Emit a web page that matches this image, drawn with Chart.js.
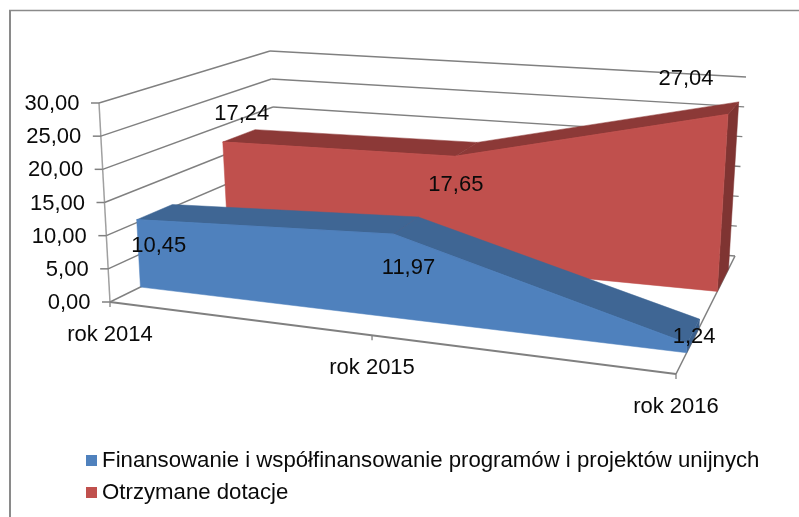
<!DOCTYPE html>
<html lang="pl">
<head>
<meta charset="utf-8">
<title>Finansowanie i dotacje</title>
<script src="https://cdn.jsdelivr.net/npm/chart.js@4"></script>
<style>
html,body{margin:0;padding:0;background:#fff}
canvas{display:block;filter:blur(.4px)}
</style>
</head>
<body>
<canvas id="c" width="799" height="517"></canvas>
<script>
const categories = ['rok 2014', 'rok 2015', 'rok 2016'];
const seriesNames = ['Finansowanie i współfinansowanie programów i projektów unijnych', 'Otrzymane dotacje'];
const fundingValues = [10.45, 11.97, 1.24];
const grantValues = [17.24, 17.65, 27.04];
const axisMin = 0, axisMax = 30, axisStep = 5;

// view of the 3-D box (style, not data)
const FONT = 'Liberation Sans, Arial, sans-serif';
const FS = 22;
const box = {
  floor: {fl:[110,302], fr:[676,374], br:[735,256], bl:[279,219]},
  ceil:  {fl:[99,103],  fr:[690,137], br:[746,77],  bl:[270,51]}
};
const warpK = 1.16;
const styles = [
  {depth:[.18,.39], front:'#4f81bd', top:'#3f6694', side:'#3a5f8c', off:[[22,26],[15,34],[7,-6]]},
  {depth:[.70,.89], front:'#c0504d', top:'#8c3937', side:'#7f3432', off:[[19,-28],[1,29],[-42,-35]]}
];
const fmt = v => Number(v).toFixed(2).replace('.', ',');
const lerp = (a,b,t) => [a[0]+(b[0]-a[0])*t, a[1]+(b[1]-a[1])*t];
function project(u, v, w){
  const s = u/(u+warpK*(1-u));
  const pl = q => lerp(lerp(q.fl,q.bl,w), lerp(q.fr,q.br,w), s);
  return lerp(pl(box.floor), pl(box.ceil), v);
}
const normU = (c,px) => (px-c.chartArea.left)/(c.chartArea.right-c.chartArea.left);
const normV = (c,px) => (c.chartArea.bottom-px)/(c.chartArea.bottom-c.chartArea.top);
function poly(ctx, pts, fill){
  ctx.beginPath();
  pts.forEach((p,i)=> i?ctx.lineTo(p[0],p[1]):ctx.moveTo(p[0],p[1]));
  ctx.closePath(); ctx.fillStyle=fill; ctx.fill();
  ctx.strokeStyle=fill; ctx.lineWidth=.5; ctx.stroke();
}
function seg(ctx,a,b,col,lw){
  ctx.beginPath(); ctx.moveTo(a[0],a[1]); ctx.lineTo(b[0],b[1]);
  ctx.strokeStyle=col; ctx.lineWidth=lw; ctx.stroke();
}
function markerCanvas(col){
  const c=document.createElement('canvas'); c.width=13; c.height=11;
  const x=c.getContext('2d'); x.fillStyle=col; x.fillRect(2,0,11,11); return c;
}
function pointsOf(chart, di){
  const values = chart.data.datasets[di].data, xs = chart.scales.x, ys = chart.scales.y;
  return values.map((val,i)=>({u:normU(chart,xs.getPixelForValue(i)), v:normV(chart,ys.getPixelForValue(val))}));
}

const box3d = {
  id:'box3d',
  afterDatasetsUpdate(chart){
    chart.data.datasets.forEach((d,di)=>{
      const pts = pointsOf(chart,di), w = styles[di].depth[0];
      chart.getDatasetMeta(di).data.forEach((el,i)=>{
        const p = project(pts[i].u,pts[i].v,w);
        el.x=p[0]; el.y=p[1];
      });
    });
  },
  afterLayout(chart){
    const l=chart.legend;
    l.left=80; l.top=439.5; l.right=chart.width; l.bottom=chart.height;
  },
  beforeDraw(chart){
    const ctx=chart.ctx, xs=chart.scales.x, ys=chart.scales.y;
    ctx.save();
    ctx.fillStyle='#fff'; ctx.fillRect(0,0,chart.width,chart.height);
    seg(ctx,[10,10],[10,517],'#8a8a8a',2);
    seg(ctx,[9,10.5],[799,10.5],'#8a8a8a',1.5);
    ctx.restore();
    // tick labels stay the scale's own, placed along the slanted edges of the box
    ys.getLabelItems(chart.chartArea).forEach((it,i)=>{
      const p=project(0,normV(chart,ys.getPixelForValue(ys.ticks[i].value)),0);
      it.options.translation=[p[0]-19.5,p[1]+1];
    });
    xs.getLabelItems(chart.chartArea).forEach((it,i)=>{
      const p=project(normU(chart,xs.getPixelForValue(i)),0,0);
      it.textOffset=0; it.options.textBaseline='middle'; it.options.textAlign='center';
      it.options.translation=[p[0],p[1]+33];
    });
    ys.left=0; ys.right=chart.width;
    xs.top=0; xs.bottom=chart.height;
  },
  beforeDatasetsDraw(chart){
    const ctx=chart.ctx, xs=chart.scales.x, ys=chart.scales.y, G='#808080';
    ctx.save();
    seg(ctx,project(0,1,0),project(0,0,0),'#a0a0a0',1.5);
    ys.ticks.forEach(t=>{
      const v=normV(chart,ys.getPixelForValue(t.value));
      const a=project(0,v,0), b=project(0,v,1), c=project(1,v,1);
      seg(ctx,[a[0]-8,a[1]],a,G,1.5);
      seg(ctx,a,b,G,1.4);
      seg(ctx,b,c,G,1.4);
    });
    seg(ctx,project(0,0,0),project(1,0,0),G,1.8);
    seg(ctx,project(1,0,0),project(1,0,1),G,1.6);
    xs.ticks.forEach((t,i)=>{
      const p=project(normU(chart,xs.getPixelForValue(i)),0,0);
      seg(ctx,p,[p[0],p[1]+5],G,1.3);
    });
    ctx.restore();
  },
  beforeDatasetDraw(chart,args){
    const di=args.index, st=styles[di], pts=pointsOf(chart,di), ctx=chart.ctx, w0=st.depth[0], w1=st.depth[1];
    const f=pts.map(p=>project(p.u,p.v,w0));
    const b=pts.map(p=>project(p.u,p.v,w1));
    const last=pts[pts.length-1];
    ctx.save();
    // right end
    poly(ctx,[project(last.u,last.v,w0),project(last.u,last.v,w1),project(last.u,0,w1),project(last.u,0,w0)],st.side);
    // top faces
    for(let i=0;i<pts.length-1;i++) poly(ctx,[f[i],f[i+1],b[i+1],b[i]],st.top);
    // front face
    poly(ctx,[...f,...pts.slice().reverse().map(p=>project(p.u,0,w0))],st.front);
    ctx.restore();
  },
  afterDatasetsDraw(chart){
    const ctx=chart.ctx;
    ctx.save();
    ctx.font=FS+'px '+FONT; ctx.fillStyle='#0a0a0a'; ctx.textAlign='center'; ctx.textBaseline='middle';
    chart.data.datasets.forEach((d,di)=>{
      chart.getDatasetMeta(di).data.forEach((el,i)=>{
        const o=styles[di].off[i];
        ctx.fillText(fmt(d.data[i]),el.x+o[0],el.y+o[1]);
      });
    });
    ctx.restore();
  }
};

new Chart(document.getElementById('c'),{
  type:'line',
  data:{
    labels:categories,
    datasets:[
      {label:seriesNames[0],data:fundingValues,borderColor:styles[0].front,backgroundColor:styles[0].front,borderWidth:1,pointRadius:0,clip:false,fill:false,tension:0,pointStyle:markerCanvas(styles[0].front)},
      {label:seriesNames[1],data:grantValues,borderColor:styles[1].front,backgroundColor:styles[1].front,borderWidth:1,pointRadius:0,clip:false,fill:false,tension:0,pointStyle:markerCanvas(styles[1].front)}
    ]
  },
  plugins:[box3d],
  options:{
    responsive:false,
    animation:false,
    events:[],
    layout:{padding:{top:103,bottom:111,right:20,left:0}},
    plugins:{
      title:{display:false},
      tooltip:{enabled:false},
      legend:{
        display:true,position:'bottom',align:'start',
        labels:{usePointStyle:true,pointStyleWidth:1,boxHeight:11,padding:10,color:'#0a0a0a',font:{family:FONT,size:22.2}}
      }
    },
    scales:{
      x:{type:'category',grid:{display:false},border:{display:false},
         ticks:{autoSkip:false,maxRotation:0,color:'#0a0a0a',font:{family:FONT,size:FS}}},
      y:{type:'linear',min:axisMin,max:axisMax,grid:{display:false},border:{display:false},
         ticks:{stepSize:axisStep,callback:fmt,color:'#0a0a0a',font:{family:FONT,size:FS}}}
    }
  }
});
</script>
</body>
</html>
